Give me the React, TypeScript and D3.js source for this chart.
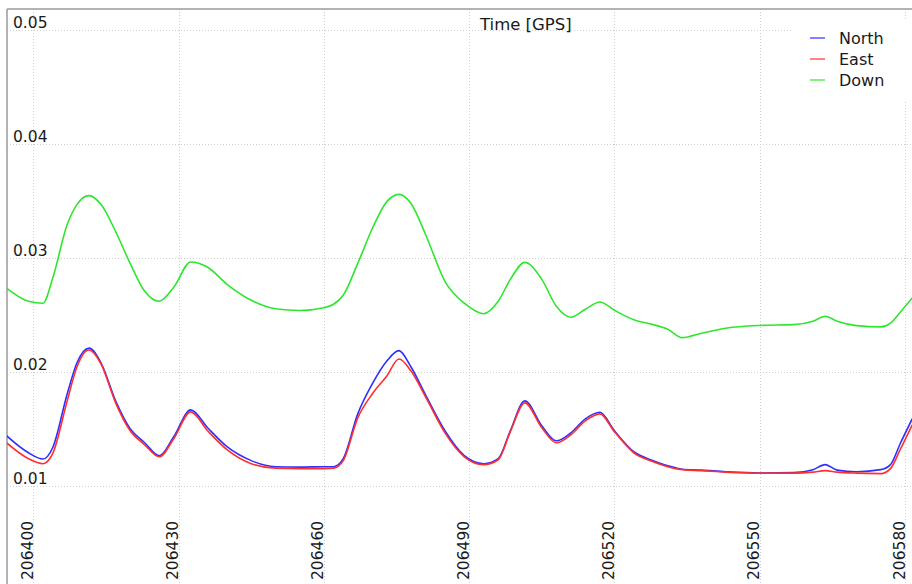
import React, { useRef, useEffect } from 'react'
import * as d3 from 'd3'

// GPS time knots
const times = [
  206394, 206399, 206402, 206404, 206407, 206409, 206411.5, 206414, 206417, 206420,
  206423, 206426, 206429, 206432.5, 206436, 206440, 206445, 206450, 206455, 206460,
  206462, 206464, 206467, 206470, 206473, 206475.5, 206478, 206481, 206485, 206489,
  206493, 206496, 206498.5, 206501.5, 206505, 206508, 206511, 206514, 206517, 206520,
  206524, 206528, 206531, 206534, 206538, 206543, 206550, 206557, 206561, 206563.5,
  206566, 206570, 206575, 206577, 206579, 206581.5,
]

const north = [
  0.01455, 0.01288, 0.01233, 0.01332, 0.01804, 0.02075, 0.02206, 0.02075, 0.01743, 0.01498,
  0.01376, 0.01262, 0.01428, 0.01664, 0.01507, 0.01341, 0.01219, 0.01166, 0.01162, 0.01166,
  0.01166, 0.01236, 0.01629, 0.01892, 0.02093, 0.02184, 0.0204, 0.01795, 0.01481, 0.01262,
  0.01192, 0.01236, 0.01481, 0.01743, 0.01524, 0.01393, 0.01463, 0.01586, 0.01643, 0.01481,
  0.01297, 0.01219, 0.01175, 0.01144, 0.01136, 0.01122, 0.01111, 0.01114, 0.0114, 0.01184,
  0.01136, 0.01122, 0.0114, 0.01184, 0.01367, 0.01586,
]

const east = [
  0.01393, 0.01236, 0.01192, 0.0128, 0.01743, 0.0204, 0.02189, 0.02066, 0.01726, 0.01481,
  0.01358, 0.01253, 0.01411, 0.01647, 0.01481, 0.01315, 0.01192, 0.01153, 0.01149, 0.01149,
  0.01153, 0.01219, 0.01594, 0.01804, 0.01962, 0.0211, 0.02005, 0.01778, 0.01463, 0.01253,
  0.01184, 0.01227, 0.01472, 0.01726, 0.01507, 0.01376, 0.01446, 0.01568, 0.01629, 0.01472,
  0.01288, 0.0121, 0.01166, 0.0114, 0.01131, 0.01118, 0.01109, 0.01109, 0.01118, 0.01131,
  0.01118, 0.01109, 0.01105, 0.01149, 0.01315, 0.01533,
]

const down = [
  0.02748, 0.02617, 0.026, 0.02818, 0.0329, 0.03465, 0.03544, 0.03465, 0.03229, 0.02949,
  0.02705, 0.02617, 0.0274, 0.02962, 0.02915, 0.02766, 0.02626, 0.02552, 0.02536, 0.0256,
  0.02591, 0.0267, 0.02949, 0.03255, 0.03491, 0.03555, 0.03474, 0.03203, 0.02792, 0.026,
  0.02508, 0.02617, 0.02809, 0.02958, 0.02809, 0.02573, 0.02477, 0.02547, 0.02611, 0.02538,
  0.02455, 0.02412, 0.02372, 0.02298, 0.02337, 0.02381, 0.02405, 0.02412, 0.02442, 0.02486,
  0.02442, 0.02403, 0.02392, 0.02425, 0.02521, 0.02646,
]

const seriesNames = ['North', 'East', 'Down']
const seriesColors = ['#2f2fff', '#ff2f2f', '#2fe62f']
const xTicks = [206400, 206430, 206460, 206490, 206520, 206550, 206580]
const yTicks = [0.01, 0.02, 0.03, 0.04, 0.05]
const xTitle = 'Time [GPS]'

function App() {
  const svgRef = useRef<SVGSVGElement>(null)

  useEffect(() => {
    const width = 912
    const height = 584
    const left = 7
    const top = 9
    const font = '"DejaVu Sans", Verdana, sans-serif'

    const svg = d3.select(svgRef.current)
    svg.selectAll('*').remove()
    svg.attr('width', width).attr('height', height)

    svg.append('rect').attr('width', width).attr('height', height).attr('fill', '#fff')

    const x = d3.scaleLinear().domain([206400, 206580]).range([33.3, 905])
    const y = d3.scaleLinear().domain([0.01, 0.05]).range([485.6, 29.6])

    svg.append('defs').append('clipPath').attr('id', 'plotclip')
      .append('rect').attr('x', left).attr('y', top).attr('width', width - left).attr('height', height - top)

    // grid
    const grid = svg.append('g').attr('stroke', '#cfcfcf').attr('stroke-width', 1).attr('stroke-dasharray', '1,2')
    grid.selectAll('line.v').data(xTicks).join('line')
      .attr('x1', d => Math.round(x(d)) + 0.5).attr('x2', d => Math.round(x(d)) + 0.5)
      .attr('y1', top).attr('y2', height)
    grid.selectAll('line.h').data(yTicks).join('line')
      .attr('class', 'h')
      .attr('x1', left).attr('x2', width)
      .attr('y1', d => Math.round(y(d)) + 0.5).attr('y2', d => Math.round(y(d)) + 0.5)

    // frame (top and left only visible)
    svg.append('line').attr('x1', left).attr('x2', width).attr('y1', top).attr('y2', top)
      .attr('stroke', '#9a9a9a').attr('stroke-width', 1.5)
    svg.append('line').attr('x1', left).attr('x2', left).attr('y1', top).attr('y2', height)
      .attr('stroke', '#9a9a9a').attr('stroke-width', 1.5)

    // y labels, sitting just above their grid line
    svg.append('g').selectAll('text').data(yTicks).join('text')
      .attr('x', 13).attr('y', d => y(d) - 1.5)
      .attr('font-family', font).attr('font-size', 15.5).attr('fill', '#1a1a1a')
      .text(d => d.toFixed(2))

    // x labels rotated
    svg.append('g').selectAll('text').data(xTicks).join('text')
      .attr('transform', d => `translate(${x(d) - 0.5},580) rotate(-90)`)
      .attr('font-family', font).attr('font-size', 15.5).attr('fill', '#1a1a1a')
      .text(d => String(d))

    svg.append('text').attr('x', 480).attr('y', 29.5)
      .attr('font-family', font).attr('font-size', 16.5).attr('fill', '#1a1a1a')
      .text(xTitle)

    const line = d3.line<number>()
      .x((_, i) => x(times[i]))
      .y(d => y(d))
      .curve(d3.curveMonotoneX)

    const plot = svg.append('g').attr('clip-path', 'url(#plotclip)')
    const drawOrder = [2, 0, 1]
    const allData = [north, east, down]
    drawOrder.forEach(k => {
      plot.append('path')
        .attr('d', line(allData[k]))
        .attr('fill', 'none')
        .attr('stroke', seriesColors[k])
        .attr('stroke-width', 1.6)
        .attr('stroke-linejoin', 'round')
    })

    // legend
    const lg = svg.append('g')
    lg.append('rect').attr('x', 793).attr('y', 20).attr('width', 125).attr('height', 80).attr('fill', '#fff')
    seriesNames.forEach((name, i) => {
      const ly = 38 + i * 21
      lg.append('line').attr('x1', 810).attr('x2', 825).attr('y1', ly).attr('y2', ly)
        .attr('stroke', seriesColors[i]).attr('stroke-opacity', 0.6).attr('stroke-width', 2)
      lg.append('text').attr('x', 839).attr('y', ly + 6)
        .attr('font-family', font).attr('font-size', 16).attr('fill', '#1a1a1a')
        .text(name)
    })
  }, [])

  return (
    <svg ref={svgRef} style={{ position: 'absolute', left: 0, top: 0 }}></svg>
  )
}

export default App
